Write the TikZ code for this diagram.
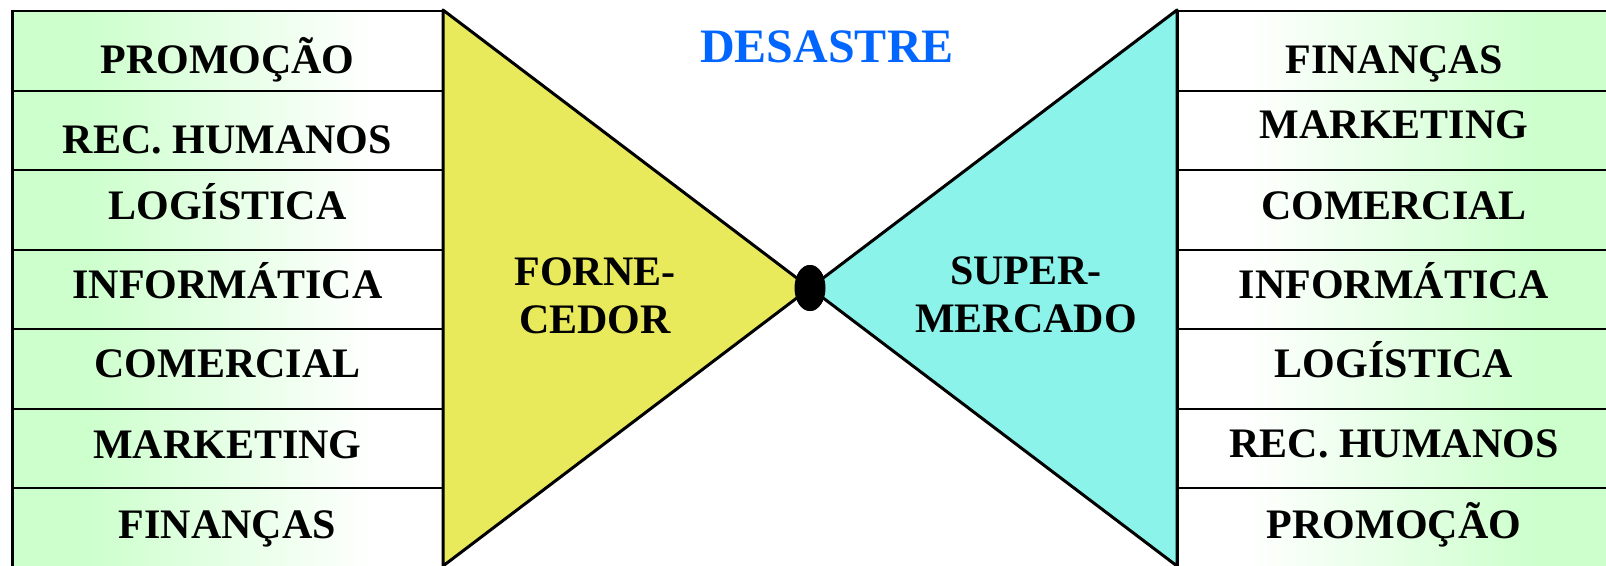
\documentclass[tikz,border=0pt]{standalone}
\usepackage{fontspec}
\setmainfont{Liberation Serif}
\usetikzlibrary{shapes.geometric}
\definecolor{rowgreen}{RGB}{204,255,204}
\definecolor{triyellow}{RGB}{233,233,92}
\definecolor{tricyan}{RGB}{140,243,235}
\definecolor{titleblue}{RGB}{0,102,255}
\pgfdeclarehorizontalshading{lgrad}{100bp}{color(0bp)=(rowgreen); color(33bp)=(rowgreen); color(67bp)=(white); color(100bp)=(white)}
\pgfdeclarehorizontalshading{rgrad}{100bp}{color(0bp)=(white); color(33bp)=(white); color(67bp)=(rowgreen); color(100bp)=(rowgreen)}
\begin{document}
\begin{tikzpicture}[x=1pt,y=-1pt,
  rowbox/.style={draw=black, line width=2pt, minimum width=431pt, minimum height=79.5pt, inner sep=0pt, anchor=north west},
  leftrow/.style={rowbox, shading=lgrad},
  rightrow/.style={rowbox, shading=rgrad},
  lbl/.style={font=\fontsize{42}{48.5}\selectfont\bfseries, anchor=base, inner sep=0pt},
  midlbl/.style={font=\fontsize{42}{48.5}\selectfont\bfseries, align=center, inner sep=0pt},
  tri/.style={draw=black, line width=3pt, line join=round},
  knot/.style={ellipse, fill=black, inner sep=0pt, minimum width=31pt, minimum height=46pt}]
\useasboundingbox (0,0) rectangle (1606,565);
\clip (0,0) rectangle (1606,565);
\fill[white] (0,0) rectangle (1606,565);
% rows
\foreach \i in {0,...,6} {
  \node[leftrow] (L\i) at (12,{10+79.5*\i}) {};
  \node[rightrow] (R\i) at (1177,{10+79.5*\i}) {};
}
\draw[black, line width=3pt] (L0.north west) -- (L6.south west);
% triangles
\coordinate (ltop) at (443,10);
\coordinate (lbot) at (443,566);
\coordinate (rtop) at (1177,10);
\coordinate (rbot) at (1177,566);
\node[knot] (dot) at (810,288) {};
\filldraw[tri, fill=triyellow] (ltop) -- (dot.center) -- (lbot) -- cycle;
\filldraw[tri, fill=tricyan] (rtop) -- (dot.center) -- (rbot) -- cycle;
\node[knot] at (dot.center) {};
% left labels
\node[lbl] (tL0) at (227.5,73.3) {PROMOÇÃO};
\node[lbl] (tL1) at (227.5,153) {REC. HUMANOS};
\node[lbl] (tL2) at (227.5,219) {LOGÍSTICA};
\node[lbl] (tL3) at (227.5,298) {INFORMÁTICA};
\node[lbl] (tL4) at (227.5,377.5) {COMERCIAL};
\node[lbl] (tL5) at (227.5,458.4) {MARKETING};
\node[lbl] (tL6) at (227.5,538) {FINANÇAS};
% right labels
\node[lbl] (tR0) at (1394,73.3) {FINANÇAS};
\node[lbl] (tR1) at (1394,138) {MARKETING};
\node[lbl] (tR2) at (1394,219) {COMERCIAL};
\node[lbl] (tR3) at (1394,298) {INFORMÁTICA};
\node[lbl] (tR4) at (1394,377.5) {LOGÍSTICA};
\node[lbl] (tR5) at (1394,457.4) {REC. HUMANOS};
\node[lbl] (tR6) at (1394,538) {PROMOÇÃO};
% middle labels
\node[midlbl] (forn) at (595,296) {FORNE-\\CEDOR};
\node[midlbl] (sup) at (1026,295) {SUPER-\\MERCADO};
\node[lbl, font=\fontsize{48}{52}\selectfont\bfseries, text=titleblue] (title) at (827,62.9) {DESASTRE};
\end{tikzpicture}
\end{document}
